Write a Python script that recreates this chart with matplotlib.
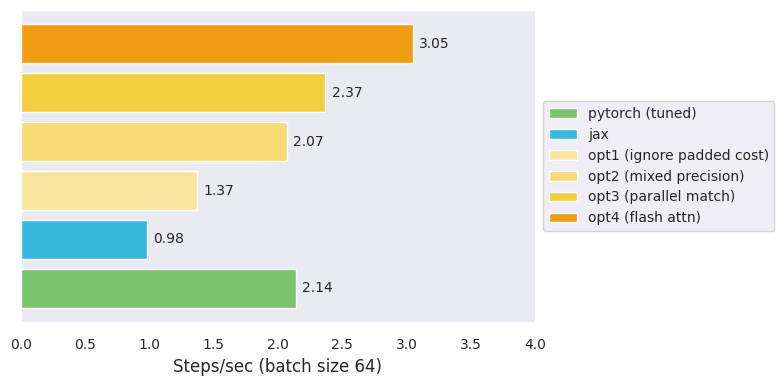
import matplotlib
matplotlib.use("Agg")
from matplotlib import pyplot as plt
import seaborn as sns

names = ["pytorch (tuned)", "jax", "opt1 (ignore padded cost)",
         "opt2 (mixed precision)", "opt3 (parallel match)", "opt4 (flash attn)"]
steps_per_sec = [2.14, 0.98, 1.37, 2.07, 2.37, 3.05]
colors = ["#7AC36A", "#34B8DE", "#F8E59E", "#F6DA73", "#F2CE3F", "#F29C14"]

sns.set_style("dark")

fig = plt.figure(figsize=(7.83, 3.84), dpi=100)
ax = fig.add_axes([0.027, 0.161, 0.656, 0.813])

bars = ax.barh(range(len(names)), steps_per_sec, height=0.8, color=colors,
               edgecolor="white", label=names)
for b, v in zip(bars, steps_per_sec):
	ax.text(v + 0.05, b.get_y() + b.get_height() / 2, "%.2f" % v,
	        va="center", ha="left", fontsize=10, color="#262626")

ax.set_yticks([])
ax.set_xlim(0, 4)
ax.tick_params(axis="x", labelsize=10, pad=8)
ax.set_xlabel("Steps/sec (batch size 64)", fontsize=12)
ax.legend(handles=list(bars), labels=names, loc="center left",
          bbox_to_anchor=(1.003, 0.5), fontsize=10)

plt.savefig("out.png")
